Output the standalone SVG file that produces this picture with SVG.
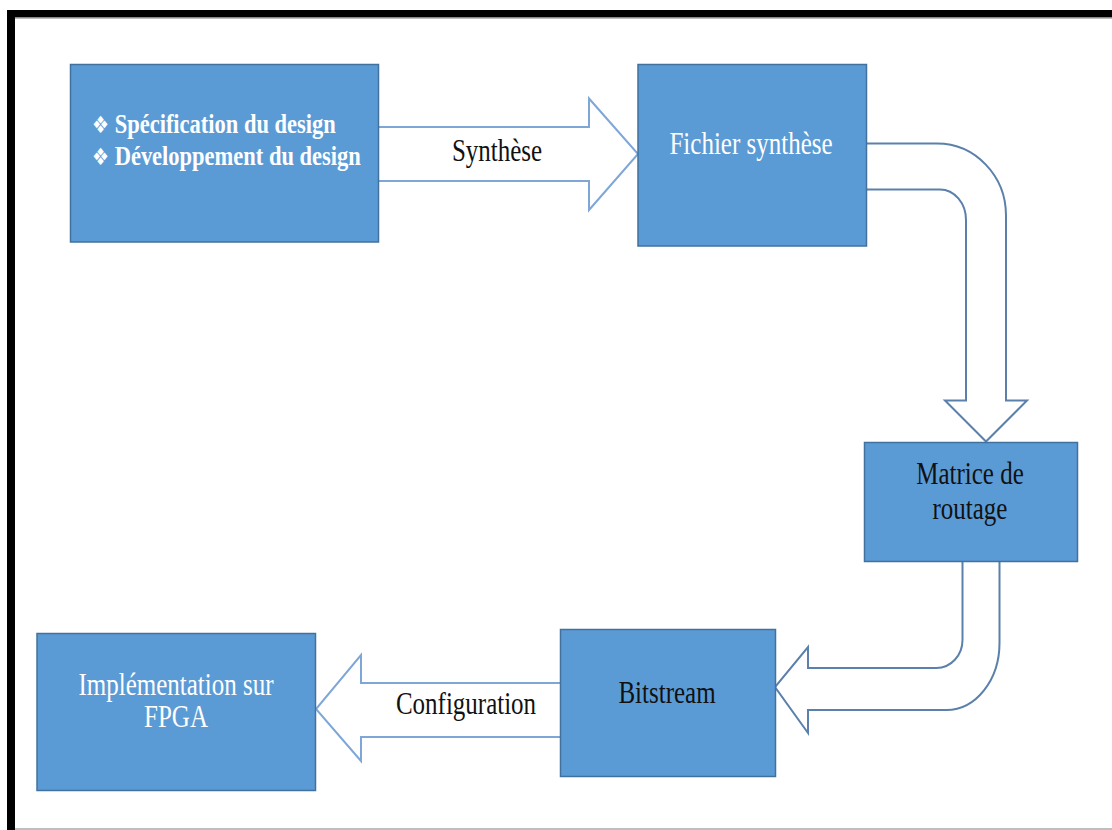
<svg xmlns="http://www.w3.org/2000/svg" width="1112" height="830" viewBox="0 0 1112 830">
  <defs>
    <style>
      .box { fill: #5b9bd5; stroke: #41719c; stroke-width: 1.5; }
      .arrow-light { fill: #ffffff; stroke: #7ea7d8; stroke-width: 2; stroke-linejoin: miter; }
      .arrow-dark { fill: #ffffff; stroke: #5a80ab; stroke-width: 2; stroke-linejoin: miter; }
      .lbl { font-family: "Liberation Serif", "Times New Roman", serif; font-size: 25px; text-anchor: middle; }
      .white { fill: #ffffff; }
      .black { fill: #111111; }
      .bold { font-family: "Liberation Serif", "Times New Roman", serif; font-size: 22.5px; font-weight: bold; fill: #ffffff; }
      .bullet { font-family: "DejaVu Sans", sans-serif; font-size: 19px; font-weight: normal; }
    </style>
  </defs>

  <!-- page frame -->
  <rect x="0" y="0" width="1112" height="830" fill="#ffffff"/>
  <rect x="7" y="10" width="1105" height="7.5" fill="#000000"/>
  <rect x="7" y="10" width="8" height="820" fill="#000000"/>
  <line x1="15" y1="18.2" x2="1112" y2="18.2" stroke="#a0a0a0" stroke-width="1"/>
  <line x1="15" y1="829" x2="1112" y2="829" stroke="#aaaaaa" stroke-width="1.5"/>

  <!-- connectors -->
  <g id="connectors">
    <path id="arrow-synthese" class="arrow-light" d="M 379 127 L 589 127 L 589 98.5 L 638 154 L 589 210 L 589 181 L 379 181"/>
    <path id="arrow-routage" class="arrow-dark" d="M 866 143.5 L 937 143.5 A 69 72 0 0 1 1006 215.5 L 1006 400.5 L 1027 400.5 L 986 441.5 L 945 400.5 L 966 400.5 L 966 220 A 26 30.5 0 0 0 940 189.5 L 866 189.5"/>
    <path id="arrow-bitstream" class="arrow-dark" d="M 962.5 562 L 962.5 640 A 26 28 0 0 1 936.5 668 L 808 668 L 808 647 L 775 687 L 808 733 L 808 710 L 946.5 710 A 53 67 0 0 0 999.5 643 L 999.5 562"/>
    <path id="arrow-config" class="arrow-light" d="M 560 683 L 361 683 L 361 655 L 316 709 L 361 761 L 361 737 L 560 737"/>
    <text class="lbl black" transform="translate(497,161) scale(1,1.25)">Synthèse</text>
    <text class="lbl black" transform="translate(466,714) scale(1,1.25)">Configuration</text>
  </g>

  <!-- nodes -->
  <g id="node-design">
    <rect class="box" x="70.5" y="64.5" width="308" height="177.5"/>
    <text class="bold" transform="translate(92,133) scale(1,1.25)"><tspan class="bullet">❖</tspan> Spécification du design</text>
    <text class="bold" transform="translate(92,165) scale(1,1.25)"><tspan class="bullet">❖</tspan> Développement du design</text>
  </g>

  <g id="node-fichier">
    <rect class="box" x="638" y="64.5" width="228.5" height="181.5"/>
    <text class="lbl white" transform="translate(751,154) scale(1,1.25)">Fichier synthèse</text>
  </g>

  <g id="node-matrice">
    <rect class="box" x="864.5" y="442.5" width="213" height="119"/>
    <text class="lbl black" transform="translate(970,484) scale(1,1.25)">Matrice de</text>
    <text class="lbl black" transform="translate(970,519) scale(1,1.25)">routage</text>
  </g>

  <g id="node-bitstream">
    <rect class="box" x="560.5" y="629.5" width="215" height="147"/>
    <text class="lbl black" transform="translate(667,703) scale(1,1.25)">Bitstream</text>
  </g>

  <g id="node-fpga">
    <rect class="box" x="37" y="633.5" width="278.5" height="157"/>
    <text class="lbl white" transform="translate(176,695) scale(1,1.25)">Implémentation sur</text>
    <text class="lbl white" transform="translate(176,727) scale(1,1.25)">FPGA</text>
  </g>
</svg>
